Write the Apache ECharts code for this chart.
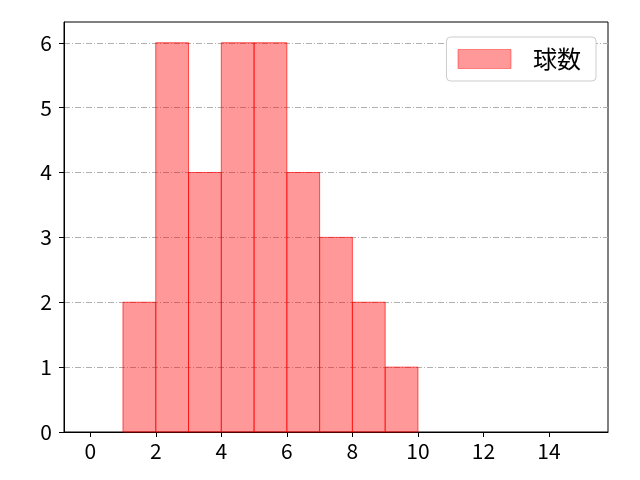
<!DOCTYPE html>
<html><head><meta charset="utf-8">
<script src="https://cdn.jsdelivr.net/npm/echarts@6/dist/echarts.min.js"></script>
<style>html,body{margin:0;padding:0;background:#fff}#c{width:640px;height:480px}</style>
</head><body><div id="c"></div>
<script>
const binStarts = [1, 2, 3, 4, 5, 6, 7, 8, 9];
const binEnds = [2, 3, 4, 5, 6, 7, 8, 9, 10];
const counts = [2, 6, 4, 6, 6, 4, 3, 2, 1];
const xTicks = [0, 2, 4, 6, 8, 10, 12, 14];
const yTicks = [0, 1, 2, 3, 4, 5, 6];
const seriesName = '球数';

const data = binStarts.map((s, i) => [s, binEnds[i], counts[i]]);
const chart = echarts.init(document.getElementById('c'), null, {renderer: 'canvas'});
const font = '"Noto Sans CJK JP", sans-serif';
chart.setOption({
  animation: false,
  grid: {left: 64, right: 32, top: 22, bottom: 48, show: true, borderColor: '#000', borderWidth: 1, backgroundColor: 'transparent'},
  legend: {
    right: 44, top: 37, orient: 'vertical',
    itemWidth: 53, itemHeight: 19, itemGap: 10,
    padding: [10, 15, 10, 11],
    backgroundColor: '#fff', borderColor: '#ccc', borderWidth: 1, borderRadius: 4,
    textStyle: {fontSize: 24, color: '#000', fontFamily: font, padding: [0, 0, 0, 17]},
    data: [{name: seriesName, icon: 'rect', itemStyle: {color: 'rgba(255,0,0,0.4)', borderColor: 'rgba(255,0,0,0.4)', borderWidth: 1}}]
  },
  xAxis: {
    type: 'value', min: -0.8, max: 15.8,
    axisLine: {show: true, onZero: false, lineStyle: {color: '#000', width: 1}},
    axisTick: {show: true, customValues: xTicks, length: 5, lineStyle: {color: '#000'}},
    axisLabel: {customValues: xTicks, fontSize: 21, color: '#000', fontFamily: font, margin: 9},
    splitLine: {show: false}
  },
  yAxis: {
    type: 'value', min: 0, max: 6.32,
    axisLine: {show: true, onZero: false, lineStyle: {color: '#000', width: 1}},
    axisTick: {show: true, customValues: yTicks, length: 5, lineStyle: {color: '#000'}},
    axisLabel: {customValues: yTicks, fontSize: 21, color: '#000', fontFamily: font, margin: 12},
    splitLine: {show: true, lineStyle: {color: '#b0b0b0', width: 1, type: [6, 2, 1, 2]}}
  },
  series: [{
    name: seriesName,
    type: 'custom',
    renderItem: function (params, api) {
      const p0 = api.coord([api.value(0), api.value(2)]);
      const p1 = api.coord([api.value(1), 0]);
      return {
        type: 'rect',
        shape: {x: p0[0], y: p0[1], width: p1[0] - p0[0], height: p1[1] - p0[1]},
        style: {fill: 'rgba(255,0,0,0.4)', stroke: 'rgba(255,0,0,0.65)', lineWidth: 1}
      };
    },
    encode: {x: [0, 1], y: 2},
    itemStyle: {color: 'rgba(255,0,0,0.4)'},
    data: data
  }]
});
</script></body></html>
